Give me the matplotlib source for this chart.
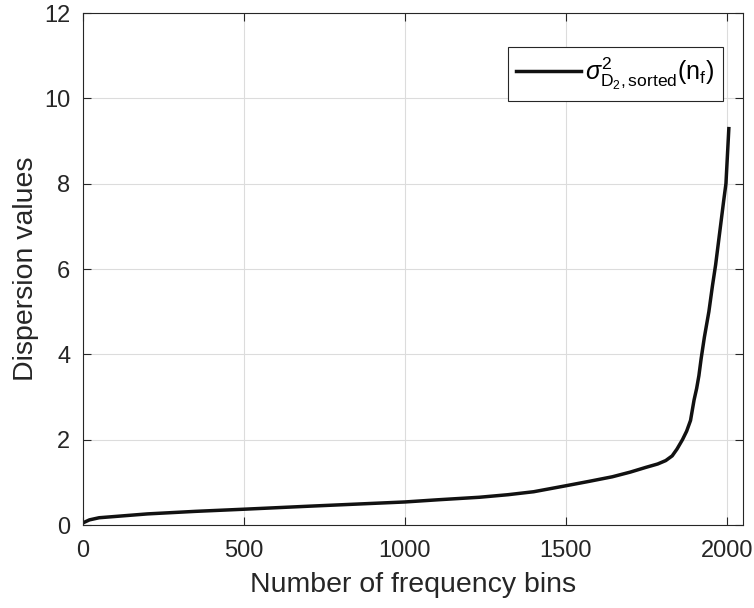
import numpy as np
import matplotlib
matplotlib.use('Agg')
import matplotlib.pyplot as plt

# values
bins = [0, 20, 50, 100, 200, 350, 500, 700, 850, 1000, 1100, 1231, 1320, 1400,
        1500, 1570, 1644, 1700, 1748, 1785, 1810, 1830, 1845, 1862, 1875, 1887,
        1898, 1906, 1913, 1920, 1930, 1944, 1955, 1965, 1980, 1990, 1997, 2006]
dispersion = [0.05, 0.12, 0.17, 0.2, 0.26, 0.32, 0.37, 0.44, 0.49, 0.54, 0.59,
              0.65, 0.71, 0.78, 0.92, 1.02, 1.13, 1.24, 1.35, 1.43, 1.51, 1.62,
              1.78, 2.0, 2.2, 2.45, 2.93, 3.2, 3.5, 3.9, 4.4, 5.0, 5.6, 6.1, 7.0,
              7.6, 8.0, 9.29]
xticks = [0, 500, 1000, 1500, 2000]
yticks = [0, 2, 4, 6, 8, 10, 12]

plt.rcParams['font.family'] = ['Liberation Sans', 'DejaVu Sans']
plt.rcParams['mathtext.fontset'] = 'custom'
plt.rcParams['mathtext.rm'] = 'Liberation Sans'
plt.rcParams['mathtext.it'] = 'Liberation Sans:italic'

axcol = '#262626'
fig = plt.figure(figsize=(7.54, 6.08), dpi=100)
ax = fig.add_axes([83 / 754, 1 - 525 / 608, 660 / 754, 512 / 608])

ax.plot(bins, dispersion, color='#111111', linewidth=2.5,
        label=r'$\sigma^{2}_{\mathrm{D_2,sorted}}(\mathrm{n_f})$')

ax.set_xlim(0, 2050)
ax.set_ylim(0, 12)
ax.set_xticks(xticks)
ax.set_yticks(yticks)
ax.grid(True, color='#dcdcdc', linewidth=0.8)
ax.set_axisbelow(True)
ax.tick_params(direction='in', length=6, width=0.8, colors=axcol,
               labelsize=17, top=True, right=True)
ax.tick_params(axis='x', pad=11)
ax.tick_params(axis='y', pad=9)
for s in ax.spines.values():
    s.set_color(axcol)
    s.set_linewidth(0.8)

ax.set_xlabel('Number of frequency bins', fontsize=20.5, color=axcol, labelpad=7)
ax.set_ylabel('Dispersion values', fontsize=20.5, color=axcol, labelpad=4)

leg = ax.legend(loc='upper right', fontsize=18, fancybox=False, framealpha=1,
                edgecolor=axcol, handlelength=2.6, borderpad=0.35,
                handletextpad=0.15, borderaxespad=0,
                bbox_to_anchor=(0.970, 0.934))
leg.get_frame().set_linewidth(0.8)

fig.savefig('out.png', dpi=100)
